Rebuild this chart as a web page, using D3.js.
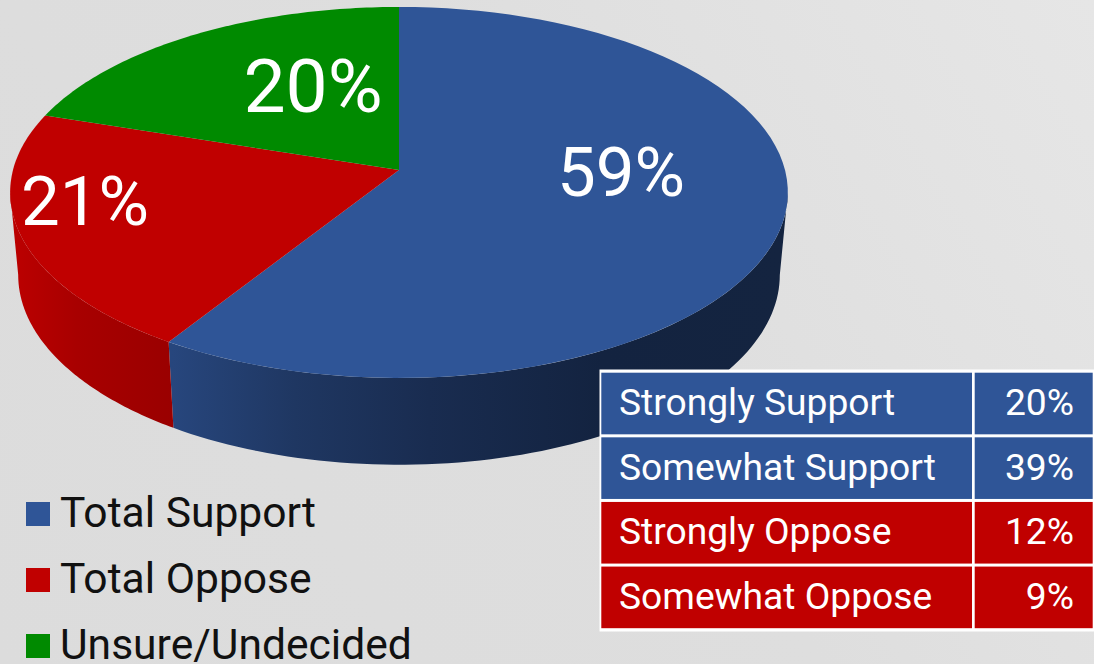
<!DOCTYPE html>
<html><head><meta charset="utf-8">
<script src="https://cdn.jsdelivr.net/npm/d3@7"></script>
<style>html,body{margin:0;padding:0;overflow:hidden}svg{display:block}text{font-family:Roboto,sans-serif}</style>
</head><body><div id="c"></div>
<script>
const categories=["Total Support","Total Oppose","Unsure/Undecided"];
const shares=[59,21,20];
const shareLabels=["59%","21%","20%"];
const colors=["#2f5597","#c00000","#008a00"];
const tableRows=["Strongly Support","Somewhat Support","Strongly Oppose","Somewhat Oppose"];
const tableValues=["20%","39%","12%","9%"];
const tableColors=["#2f5597","#2f5597","#c00000","#c00000"];

const W=1094,H=664;
const svg=d3.select("#c").append("svg").attr("width",W).attr("height",H);
const defs=svg.append("defs");
function grad(id,attrs,stops){
  const g=defs.append("linearGradient").attr("id",id).attr("gradientUnits","userSpaceOnUse");
  Object.entries(attrs).forEach(([k,v])=>g.attr(k,v));
  stops.forEach(([o,c])=>g.append("stop").attr("offset",o).attr("stop-color",c));
}
grad("bg",{x1:0,y1:H,x2:W,y2:0},[[0,"#dcdcdc"],[0.55,"#dedede"],[1,"#e6e6e6"]]);
grad("sideBlue",{x1:172,y1:0,x2:785,y2:0},[[0,"#27467d"],[0.2,"#1f3762"],[0.42,"#192c50"],[0.7,"#132340"],[1,"#142440"]]);
grad("sideRed",{x1:14,y1:0,x2:172,y2:0},[[0,"#bb0000"],[0.4,"#a80000"],[1,"#9a0000"]]);
svg.append("rect").attr("width",W).attr("height",H).attr("fill","url(#bg)");

// perspective projection of the unit disc
const K=0.121, CX=399;
function proj(a,apexY,ax,ay){
  const u=Math.sin(a),v=-Math.cos(a),d=1-K*v;
  return [CX+ax*u/d, apexY+ay*v/d];
}
const topRim=a=>proj(a,170,386,182.8);
const botRim=a=>proj(a,252,378,187);
const arcs=d3.pie().sort(null).value(d=>d)(shares);
const samples=(s,e)=>d3.range(0,81).map(i=>s+(e-s)*i/80);
const line=d3.line();
const sideFills=["url(#sideBlue)","url(#sideRed)",null];
const silhouette=Math.acos(-K);   // rim angle where the disc reaches its widest point
const g=svg.append("g");
// sides
arcs.forEach((d,i)=>{
  if(!sideFills[i])return;
  const s=Math.max(d.startAngle,silhouette), e=Math.min(d.endAngle,2*Math.PI-silhouette);
  if(e<=s)return;
  const as=samples(s,e);
  const pts=as.map(topRim).concat(as.slice().reverse().map(botRim));
  g.append("path").attr("d",line(pts)+"Z").attr("fill",sideFills[i]);
});
// top faces
arcs.forEach((d,i)=>{
  const pts=[[CX,170]].concat(samples(d.startAngle,d.endAngle).map(topRim));
  g.append("path").attr("d",line(pts)+"Z").attr("fill",colors[i]);
});
// share labels
const labelPos=[[621,196],[85,225],[313,111.5]];
const labelSize=[69,69,75];
g.selectAll("text.share").data(shareLabels).join("text").attr("class","share")
 .attr("x",(d,i)=>labelPos[i][0]).attr("y",(d,i)=>labelPos[i][1])
 .attr("text-anchor","middle").attr("fill","#fff").attr("font-size",(d,i)=>labelSize[i]).text(d=>d);

// legend
const ly=d3.scalePoint().domain(categories).range([514,646]);
const leg=svg.append("g").selectAll("g").data(categories).join("g");
leg.append("rect").attr("x",26).attr("y",d=>ly(d)-12).attr("width",24).attr("height",24).attr("fill",(d,i)=>colors[i]);
leg.append("text").attr("x",60).attr("y",d=>ly(d)+13).attr("font-size",42.6).attr("fill","#111").text(d=>d);

// table
const ty=d3.scaleBand().domain(tableRows).range([371,629.5]);
const tb=svg.append("g");
tb.append("rect").attr("x",599.5).attr("y",369.5).attr("width",494.5).attr("height",262).attr("fill","#fff");
const row=tb.selectAll("g").data(tableRows).join("g");
row.append("rect").attr("x",601.3).attr("y",d=>ty(d)+1.7).attr("width",370.7).attr("height",ty.bandwidth()-3).attr("fill",(d,i)=>tableColors[i]);
row.append("rect").attr("x",974.7).attr("y",d=>ty(d)+1.7).attr("width",118).attr("height",ty.bandwidth()-3).attr("fill",(d,i)=>tableColors[i]);
row.append("text").attr("x",619).attr("y",d=>ty(d)+44).attr("font-size",37.2).attr("fill","#fff").text(d=>d);
row.append("text").attr("x",1074).attr("y",d=>ty(d)+44).attr("text-anchor","end").attr("font-size",37.2).attr("fill","#fff").text((d,i)=>tableValues[i]);
</script></body></html>
